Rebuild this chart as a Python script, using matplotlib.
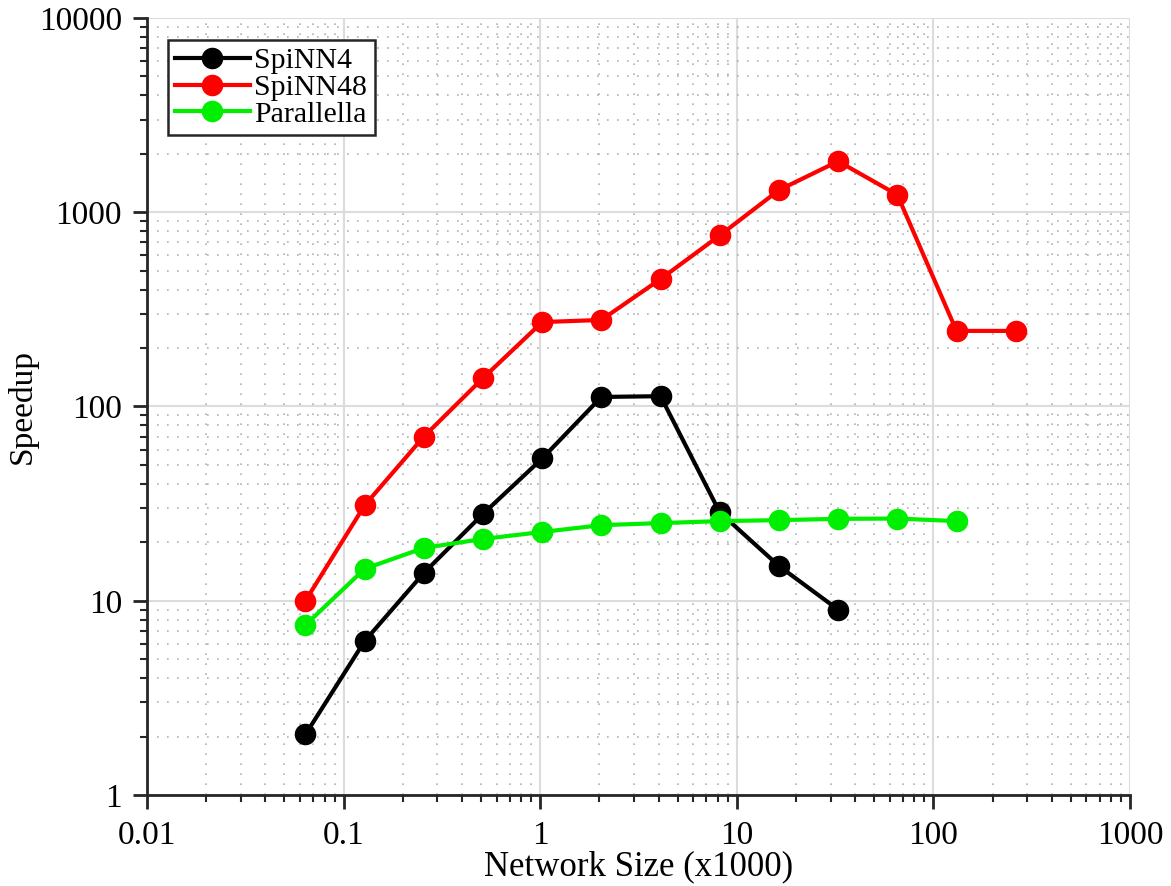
import matplotlib
matplotlib.use("Agg")
import matplotlib.pyplot as plt
from matplotlib.ticker import LogLocator, FixedLocator, FixedFormatter, NullFormatter

plt.rcParams['font.family'] = ['Liberation Serif', 'DejaVu Serif']

network_size = [0.064, 0.128, 0.256, 0.512, 1.024, 2.048, 4.096, 8.192,
                16.384, 32.768, 65.536, 131.072, 262.144]
spinn4 = [2.05, 6.2, 13.9, 28, 54, 112, 113, 28.5, 15.1, 9.0]
spinn48 = [10, 31, 70, 140, 272, 279, 453, 760, 1300, 1830, 1230, 245, 245]
parallella = [7.5, 14.6, 18.7, 20.8, 22.6, 24.5, 25.1, 25.7, 26.0, 26.4, 26.5, 25.7]

x_ticks = [0.01, 0.1, 1, 10, 100, 1000]
x_ticklabels = ['0.01', '0.1', '1', '10', '100', '1000']
y_ticks = [1, 10, 100, 1000, 10000]
y_ticklabels = ['1', '10', '100', '1000', '10000']

fig = plt.figure(figsize=(11.71, 8.86), dpi=100)
ax = fig.add_axes([0.1255, 0.1027, 0.8395, 0.877])

ms = 14.5
lw = 3.0
ax.plot(network_size[:len(spinn4)], spinn4, color='black', lw=lw, marker='o', ms=ms, label='SpiNN4', zorder=3)
ax.plot(network_size[:len(spinn48)], spinn48, color='#ff0000', lw=lw, marker='o', ms=ms, label='SpiNN48', zorder=3)
ax.plot(network_size[:len(parallella)], parallella, color='#00ee00', lw=lw, marker='o', ms=ms, label='Parallella', zorder=3)

ax.set_xscale('log')
ax.set_yscale('log')
ax.set_xlim(0.01, 1000)
ax.set_ylim(1, 10000)

ax.xaxis.set_major_locator(FixedLocator(x_ticks))
ax.xaxis.set_major_formatter(FixedFormatter(x_ticklabels))
ax.yaxis.set_major_locator(FixedLocator(y_ticks))
ax.yaxis.set_major_formatter(FixedFormatter(y_ticklabels))
ax.xaxis.set_minor_locator(LogLocator(base=10, subs=range(2, 10), numticks=20))
ax.yaxis.set_minor_locator(LogLocator(base=10, subs=range(2, 10), numticks=20))
ax.xaxis.set_minor_formatter(NullFormatter())
ax.yaxis.set_minor_formatter(NullFormatter())

ax.grid(True, which='major', color='#dcdcdc', lw=1.5, ls='-', zorder=0)
ax.grid(True, which='minor', color='#b0b0b0', lw=1.2, ls=(0, (1, 5)), zorder=0)
ax.set_axisbelow(True)

for s in ['top', 'right']:
    ax.spines[s].set_visible(False)
for s in ['left', 'bottom']:
    ax.spines[s].set_linewidth(2)
    ax.spines[s].set_color('#262626')

ax.tick_params(which='major', direction='out', length=10, width=2, pad=8, colors='#262626')
ax.tick_params(which='minor', direction='out', length=5, width=1.5, colors='#262626')
ax.tick_params(axis='x', labelsize=24, labelcolor='black')
ax.tick_params(axis='y', labelsize=24, labelcolor='black')

ax.set_xlabel('Network Size (x1000)', fontsize=25, labelpad=0)
ax.set_ylabel('Speedup', fontsize=24)
ax.yaxis.set_label_coords(-0.111, 0.5)

leg = ax.legend(loc='upper left', bbox_to_anchor=(0.021, 0.972), fontsize=21.5, frameon=True,
                fancybox=False, edgecolor='#262626', framealpha=1,
                handlelength=2.5, handletextpad=0.15, borderpad=0.25, labelspacing=0.0, borderaxespad=0)
leg.get_frame().set_linewidth(1.8)

fig.savefig('out.png', dpi=100)
